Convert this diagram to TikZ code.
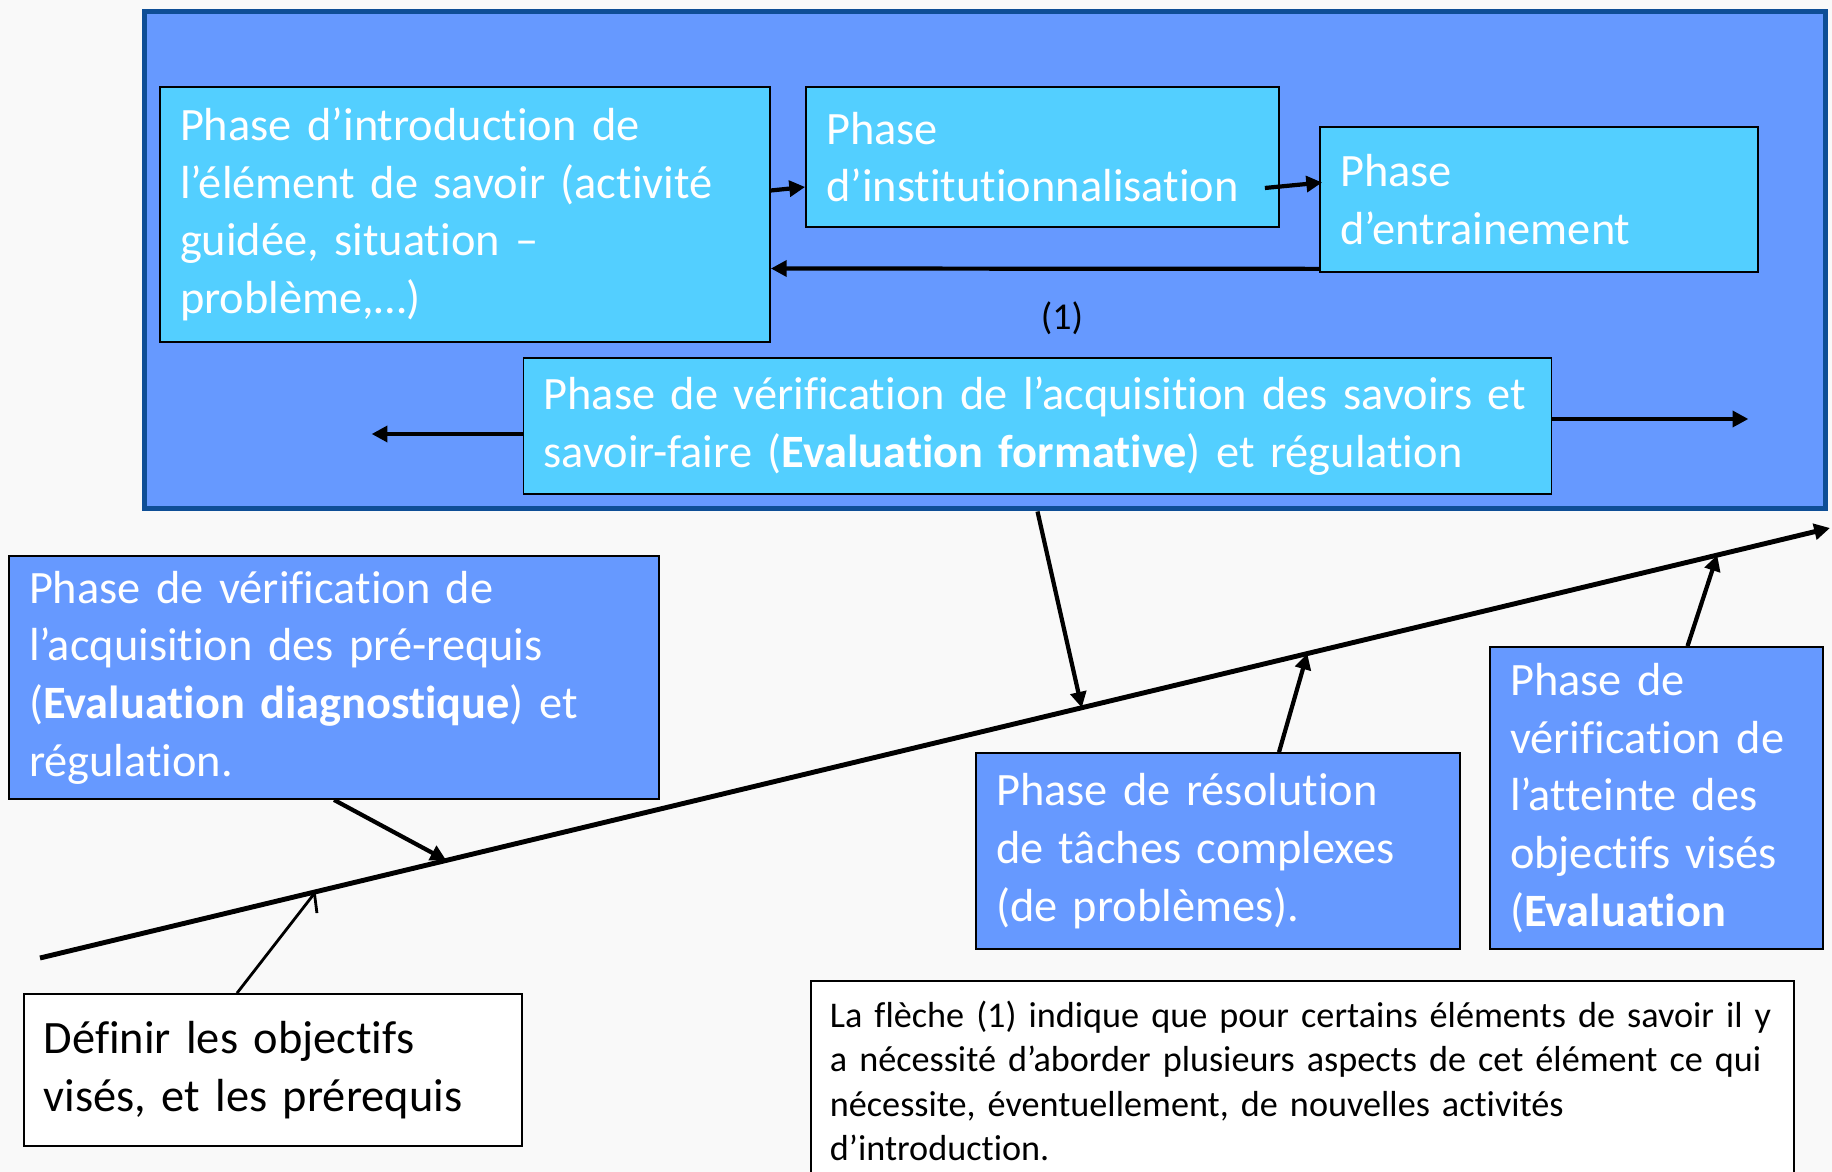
\documentclass[tikz,border=0pt]{standalone}
\usepackage{fontspec}
\setmainfont{Carlito}[Ligatures=NoCommon]
\usepackage{xcolor}
\usetikzlibrary{arrows.meta,positioning,calc}
\definecolor{slideblue}{HTML}{6699FF}
\definecolor{phasecyan}{HTML}{53CFFF}
\definecolor{frameblue}{HTML}{0E4E96}
\definecolor{paper}{HTML}{F9F9F9}

\begin{document}
\begin{tikzpicture}[
  x=0.1mm,y=-0.1mm,
  phase/.style={draw=black,line width=0.5pt,fill=phasecyan,text=white,align=left,inner xsep=2mm,inner ysep=0pt,font=\fontsize{13.2}{16.4}\selectfont},
  bluephase/.style={phase,fill=slideblue},
  whitebox/.style={phase,fill=white,text=black},
  note/.style={draw=black,line width=0.5pt,fill=white,align=left,inner xsep=1.9mm,inner ysep=0pt,font=\fontsize{10.3}{12.7}\selectfont},
  arr/.style={-{Triangle[length=4.5pt,width=4.5pt]},line width=1.2pt},
  axis/.style={-{Triangle[length=4.5pt,width=4.5pt]},line width=1.4pt},
  thinarr/.style={-{Straight Barb[length=4pt,width=8pt]},line width=0.8pt},
  lbl/.style={font=\fontsize{10.8}{13}\selectfont},
]
  \fill[paper] (0,0) rectangle (1832,1172);
  \useasboundingbox (0,0) rectangle (1832,1172);

  % cycle of the lesson
  \node[draw=frameblue,line width=0.5mm,fill=slideblue,minimum width=168.1mm,minimum height=49.7mm,inner sep=0pt] (cycle) at (984.5,260.5) {};
  \node[phase,text width=57mm,minimum height=25.5mm] (intro) at (465,214.5)
    {Phase d’introduction de\\l’élément de savoir (activité\\guidée, situation –\\problème,…)};
  \node[phase,text width=43.3mm,minimum height=14mm] (inst) at (1042.5,157)
    {Phase\\d’institutionnalisation};
  \node[phase,text width=39.8mm,minimum height=14.5mm] (entr) at (1539,199.5)
    {Phase\\d’entrainement};
  \node[phase,text width=98.8mm,minimum height=13.6mm] (form) at (1037.5,426)
    {Phase de vérification de l’acquisition des savoirs et\\savoir-faire (\textbf{Evaluation formative}) et régulation};

  \draw[arr] ($(intro.east)+(0,-24)$) -- ($(inst.west)+(0,30)$);
  \draw[arr] ($(inst.east)+(-15,31)$) -- ($(entr.west)+(3,-17)$);
  \draw[arr] ($(entr.south west)+(0,-4)$) -- ($(intro.east)+(0,54)$);
  \node[lbl] (one) at (1062,318) {(1)};
  \coordinate (back) at ($(form.west)+(-151,8)$);
  \coordinate (fwd) at ($(form.east)+(196,-7)$);
  \draw[arr] ($(form.west)+(0,8)$) -- (back);
  \draw[arr] ($(form.east)+(0,-7)$) -- (fwd);

  % the other phases
  \node[bluephase,text width=61mm,minimum height=24.3mm] (diag) at (334,677.5)
    {Phase de vérification de\\l’acquisition des pré-requis\\(\textbf{Evaluation diagnostique}) et\\régulation.};
  \node[bluephase,text width=44.4mm,minimum height=19.6mm] (resol) at (1218,851)
    {Phase de résolution\\de tâches complexes\\(de problèmes).};
  \node[bluephase,text width=29.3mm,minimum height=30.2mm] (goal) at (1656.5,798)
    {Phase de\\vérification de\\l’atteinte des\\objectifs visés\\(\textbf{Evaluation}};
  \node[whitebox,text width=45.85mm,minimum height=15.2mm] (defn) at (273,1070)
    {Définir les objectifs\\visés, et les prérequis};
  \node[note,text width=94.5mm,minimum height=20mm,anchor=north west] (remark) at (810,980)
    {La flèche (1) indique que pour certains éléments de savoir il y\\a nécessité d’aborder plusieurs aspects de cet élément ce qui\\nécessite, éventuellement, de nouvelles activités\\d’introduction.};

  % time line
  \coordinate (t0) at (40,958);
  \coordinate (t1) at (1830,528);
  \draw[axis] (t0) -- (t1);
  \coordinate (pdef) at ($(t0)!0.154!(t1)$);
  \coordinate (pdiag) at ($(t0)!0.227!(t1)$);
  \coordinate (pform) at ($(t0)!0.582!(t1)$);
  \coordinate (presol) at ($(t0)!0.708!(t1)$);
  \coordinate (pgoal) at ($(t0)!0.937!(t1)$);

  \draw[thinarr] ($(defn.north)+(-36,0)$) -- (pdef);
  \draw[arr] (diag.south) -- (pdiag);
  \draw[arr] (form.south |- cycle.south) -- (pform);
  \draw[arr] ($(resol.north)+(61,0)$) -- (presol);
  \draw[arr] ($(goal.north)+(31,0)$) -- (pgoal);
\end{tikzpicture}
\end{document}
